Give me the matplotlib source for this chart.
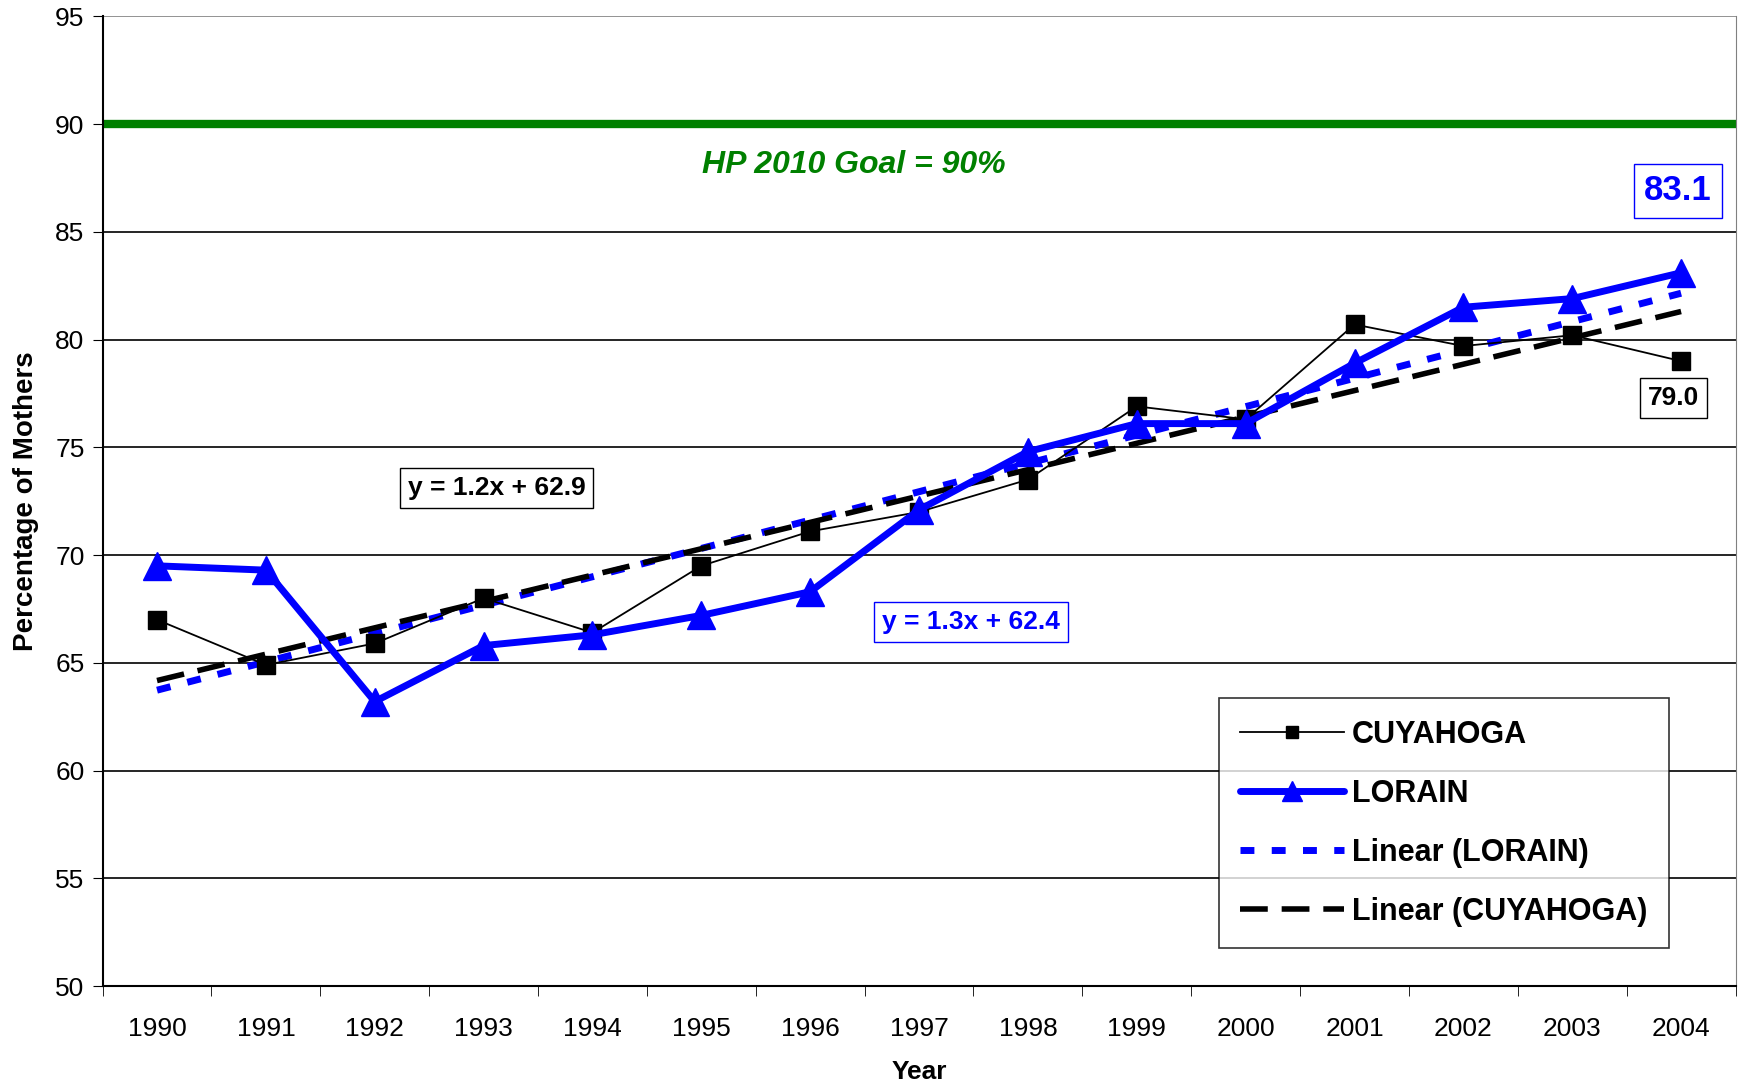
import numpy as np
import matplotlib.pyplot as plt

years = ["1990", "1991", "1992", "1993", "1994", "1995", "1996", "1997",
         "1998", "1999", "2000", "2001", "2002", "2003", "2004"]
cuyahoga = [67.0, 64.9, 65.9, 68.0, 66.4, 69.5, 71.1, 72.0, 73.5, 76.9,
            76.3, 80.7, 79.7, 80.2, 79.0]
lorain = [69.5, 69.3, 63.2, 65.8, 66.3, 67.2, 68.3, 72.1, 74.8, 76.1,
          76.1, 78.9, 81.5, 81.9, 83.1]
goal = 90
yticks = [50, 55, 60, 65, 70, 75, 80, 85, 90, 95]

plt.rcParams['font.family'] = ['Liberation Sans', 'DejaVu Sans']

fig = plt.figure(figsize=(17.39, 10.86), dpi=100)
ax = fig.add_axes([0.059, 0.092, 0.939, 0.893])

x = np.arange(len(years))

# gridlines
for t in yticks[1:]:
    ax.axhline(t, color="#808080" if t == 95 else "black", lw=1.2, zorder=1)

# goal line
ax.axhline(goal, color="#008000", lw=6, zorder=2)
ax.text(6.4, 88.1, "HP 2010 Goal = 90%", color="#008000", fontsize=23,
        fontweight="bold", fontstyle="italic", ha="center", va="center")

# linear trends (fit on 1..15 like excel)
xs = x + 1
pl = np.polyfit(xs, lorain, 1)
pc = np.polyfit(xs, cuyahoga, 1)

ax.plot(x, cuyahoga, color="black", lw=1.3, marker="s", ms=13,
        label="CUYAHOGA", zorder=4)
ax.plot(x, lorain, color="blue", lw=5, marker="^", ms=20,
        label="LORAIN", zorder=5, solid_capstyle="round")
ax.plot(x, np.polyval(pl, xs), color="blue", lw=5, ls=(0, (2, 2.5)),
        label="Linear (LORAIN)", zorder=3)
ax.plot(x, np.polyval(pc, xs), color="black", lw=4, ls=(0, (5, 2.5)),
        label="Linear (CUYAHOGA)", zorder=3)

# annotations
ax.text(3.12, 73.1, "y = 1.2x + 62.9", fontsize=19, fontweight="bold",
        ha="center", va="center",
        bbox=dict(boxstyle="square,pad=0.3", fc="white", ec="black", lw=1))
ax.text(7.48, 66.9, "y = 1.3x + 62.4", fontsize=19, fontweight="bold",
        color="blue", ha="center", va="center",
        bbox=dict(boxstyle="square,pad=0.3", fc="white", ec="blue", lw=1))
ax.text(13.97, 86.9, "83.1", fontsize=25, fontweight="bold", color="blue",
        ha="center", va="center",
        bbox=dict(boxstyle="square,pad=0.3", fc="white", ec="blue", lw=1))
ax.text(13.93, 77.3, "79.0", fontsize=19, fontweight="bold",
        ha="center", va="center",
        bbox=dict(boxstyle="square,pad=0.3", fc="white", ec="black", lw=1))

ax.set_xlim(-0.5, len(years) - 0.5)
ax.set_ylim(50, 95)
ax.set_yticks(yticks)
ax.set_xticks(x)
ax.set_xticklabels(years)
ax.set_xticks(np.arange(-0.5, len(years)), minor=True)
ax.tick_params(axis="x", which="major", length=0, pad=22)
ax.tick_params(axis="x", which="minor", length=7, direction="out")
ax.tick_params(axis="y", length=7, direction="out", pad=6)
for lab in ax.get_xticklabels() + ax.get_yticklabels():
    lab.set_family(['Liberation Sans Narrow', 'Liberation Sans'])
    lab.set_fontsize(19)

ax.spines["top"].set_visible(False)
ax.spines["right"].set_color("#808080")
ax.spines["left"].set_linewidth(1.5)
ax.spines["bottom"].set_linewidth(1.5)

ax.set_ylabel("Percentage of Mothers", fontsize=20, fontweight="bold",
              labelpad=12)
ax.set_xlabel("Year", fontsize=19, fontweight="bold", labelpad=14)

leg = ax.legend(loc="lower right", bbox_to_anchor=(0.959, 0.039),
                borderaxespad=0,
                prop=dict(size=22, weight="bold"), frameon=True, fancybox=False,
                edgecolor="black", handlelength=3.4, labelspacing=0.95,
                borderpad=0.7, handletextpad=0.25, markerscale=0.7)
leg.get_frame().set_linewidth(1.2)

fig.savefig("out.png", dpi=100)
